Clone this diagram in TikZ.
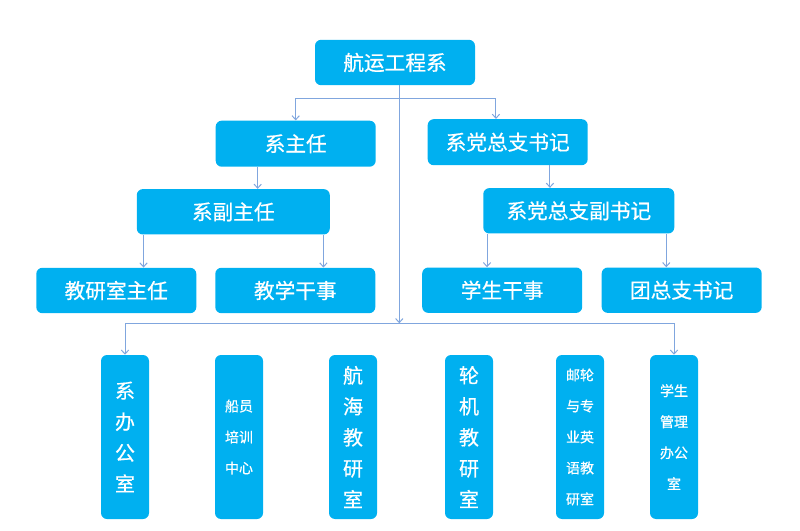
\documentclass[tikz,border=0pt]{standalone}
\usepackage{fontspec}
\usepackage{xcolor}
\usepackage{tikz}
\usetikzlibrary{arrows.meta, positioning}
\newfontfamily\cjk[FakeBold=0.6]{Noto Sans CJK SC}
\definecolor{orgblue}{RGB}{0, 176, 240}
\definecolor{linkblue}{RGB}{128, 166, 222}

\begin{document}
\begin{tikzpicture}[
          x=0.75pt, y=-0.75pt,
          basebox/.style={rectangle, rounded corners=4.5pt, fill=orgblue, text=white, inner sep=0pt, align=center},
          hbox/.style={basebox, minimum width=120pt, minimum height=34pt, font=\cjk\fontsize{15.5}{19}\selectfont},
          vbig/.style={basebox, minimum width=36pt, minimum height=123pt, font=\cjk\fontsize{15}{23.25}\selectfont},
          vsmall/.style={basebox, minimum width=36pt, minimum height=123pt, font=\cjk\fontsize{10.5}{23.25}\selectfont},
          conn/.style={-{Straight Barb[length=3pt, width=5.5pt]}, line width=0.75pt, color=linkblue}
        ]
          \useasboundingbox (0,0) rectangle (800,531);

          \node[hbox] (dept) at (395,62.5) {航运工程系};
          \node[hbox, minimum height=34.5pt] (zhuren) at (295.7,143.7) {系主任};
          \node[hbox, minimum height=34.5pt] (shuji) at (507.7,142.2) {系党总支书记};
          \node[hbox, minimum width=144.75pt] (fuzhuren) at (233.3,211.8) {系副主任};
          \node[hbox, minimum width=143.25pt] (fushuji) at (578.8,210.8) {系党总支副书记};
          \node[hbox] (jiaoyan) at (116.3,290.5) {教研室主任};
          \node[hbox] (jiaoxue) at (295.3,290.5) {教学干事};
          \node[hbox] (xuesheng) at (502.2,290.2) {学生干事};
          \node[hbox] (tuan) at (681.7,290.2) {团总支书记};

          \node[vbig] (xiban) at (125,437) {系\\办\\公\\室};
          \node[vsmall] (chuanyuan) at (239,437) {船员\\培训\\中心};
          \node[vbig] (hanghai) at (353,437) {航\\海\\教\\研\\室};
          \node[vbig] (lunji) at (469,437) {轮\\机\\教\\研\\室};
          \node[vsmall] (youlun) at (580,437) {邮轮\\与专\\业英\\语教\\研室};
          \node[vsmall] (xueguan) at (674,437) {学生\\管理\\办公\\室};

          \coordinate (fork) at (399.3,98.3);
          \coordinate (trunk) at (399.3,323.3);

          \draw[conn] (dept.south -| fork) -- (trunk);
          \draw[conn] (fork) -| (zhuren.north);
          \draw[conn] (fork) -| ([xshift=-8.8pt]shuji.north);

          \draw[conn] ([xshift=-28.5pt]zhuren.south) -- ([xshift=-28.5pt]zhuren.south |- fuzhuren.north);
          \draw[conn] ([xshift=31.7pt]shuji.south) -- ([xshift=31.7pt]shuji.south |- fushuji.north);

          \draw[conn] ([xshift=5.25pt]fuzhuren.south west) -- ([xshift=5.25pt]fuzhuren.south west |- jiaoyan.north);
          \draw[conn] ([xshift=-5pt]fuzhuren.south east) -- ([xshift=-5pt]fuzhuren.south east |- jiaoxue.north);
          \draw[conn] ([xshift=3pt]fushuji.south west) -- ([xshift=3pt]fushuji.south west |- xuesheng.north);
          \draw[conn] ([xshift=-6.2pt]fushuji.south east) -- ([xshift=-6.2pt]fushuji.south east |- tuan.north);

          \draw[conn] (trunk) -| (xiban.north);
          \draw[conn] (trunk) -| (xueguan.north);
        \end{tikzpicture}
\end{document}
